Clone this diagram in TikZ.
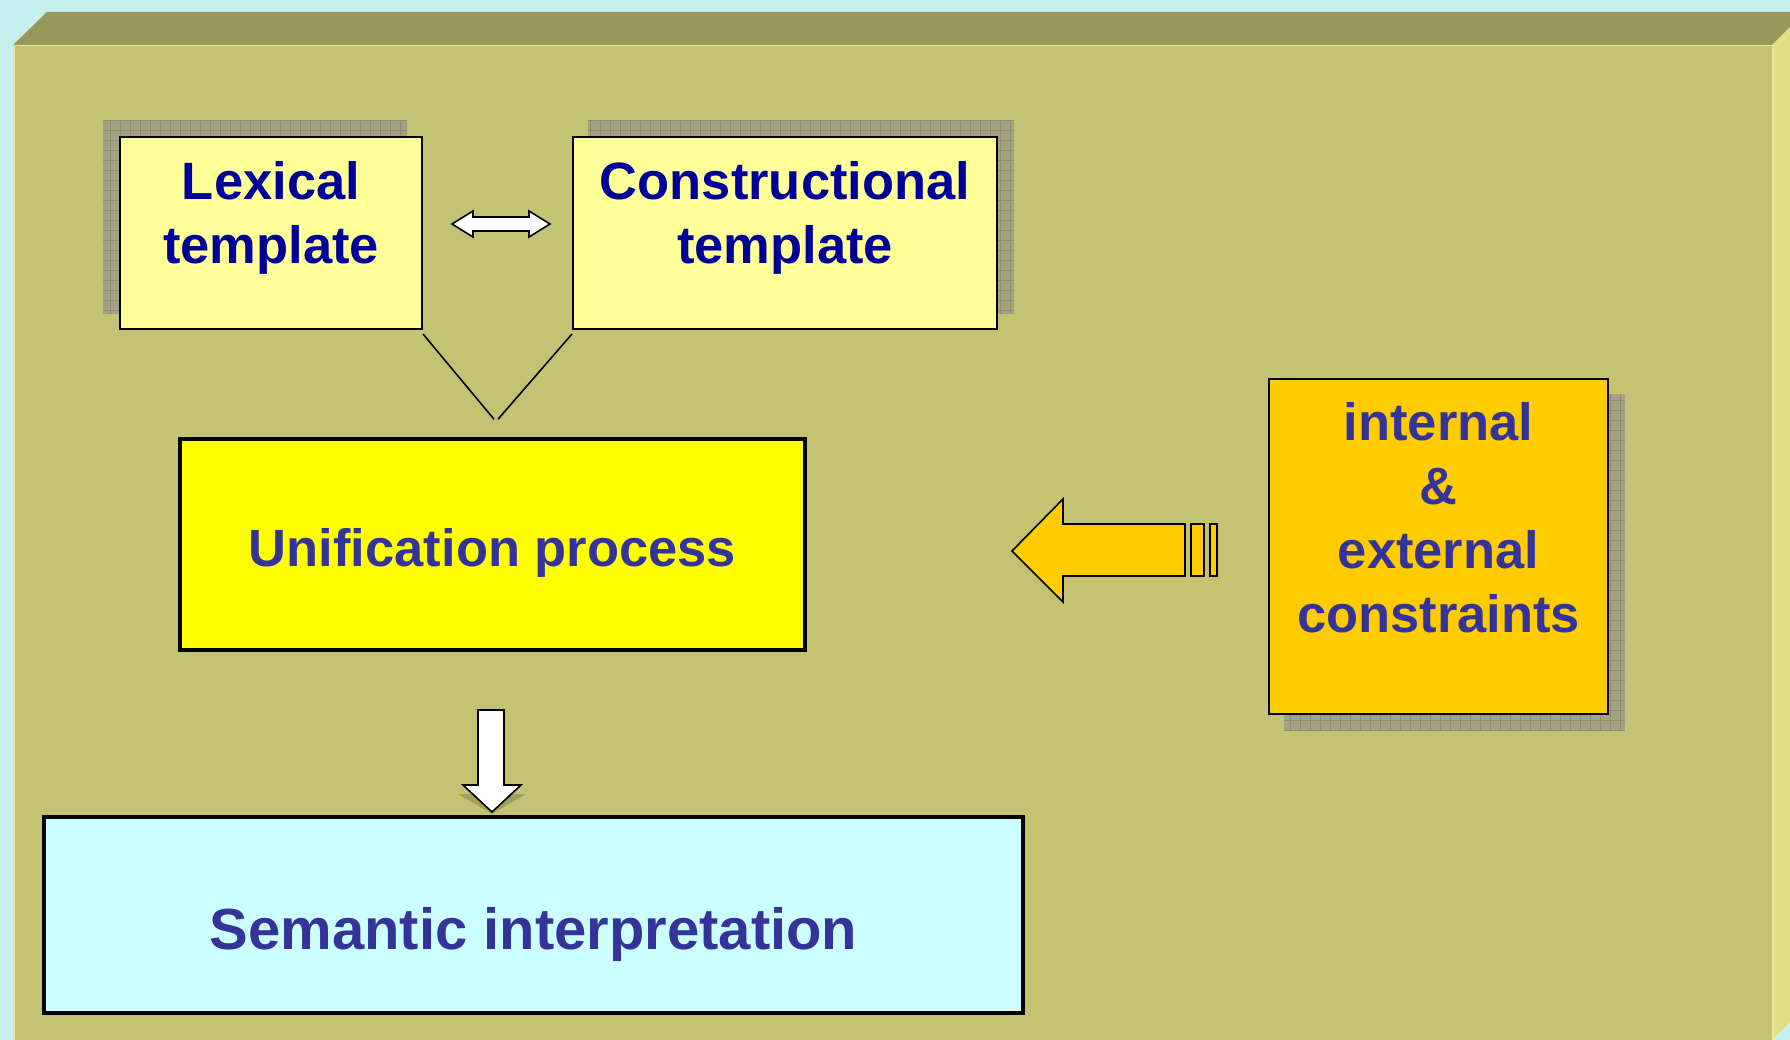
\documentclass[tikz,border=0pt]{standalone}
\usepackage{fontspec}
\setmainfont{Liberation Sans}
\usepackage{tikz}
\usetikzlibrary{calc}
\usetikzlibrary{positioning}
\usetikzlibrary{backgrounds}
\definecolor{skycolor}{HTML}{C6EFEF}
\definecolor{frontcolor}{HTML}{C3C373}
\definecolor{topcolor}{HTML}{989858}
\definecolor{sidecolor}{HTML}{E0E085}
\definecolor{shadowcolor}{HTML}{A3A282}
\definecolor{gridcolor}{HTML}{8E8D70}
\definecolor{tmplcolor}{HTML}{FFFF99}
\definecolor{unicolor}{HTML}{FFFF00}
\definecolor{semcolor}{HTML}{CCFFFF}
\definecolor{alertcolor}{HTML}{FFCC00}
\definecolor{navycolor}{HTML}{000099}
\definecolor{textcolor}{HTML}{333399}
\tikzstyle{template} = [rectangle,
    minimum height=192pt,
    inner sep=0pt,
    draw=black,
    line width=2pt,
    fill=tmplcolor]
\tikzstyle{process} = [rectangle,
    inner sep=0pt,
    draw=black,
    line width=3.5pt]
\tikzstyle{bigtext} = [font=\bfseries\fontsize{52.5}{64}\selectfont,
    align=center,
    inner sep=0pt,
    text=textcolor]
\tikzstyle{blockarrow} = [draw=black, line width=1.6pt, line join=miter]
\tikzstyle{shadowgrid} = [gridcolor, line width=0.5pt, step=10pt]

\begin{document}
\begin{tikzpicture}[x=1pt,y=-1pt]
\useasboundingbox (0,0) rectangle (1790,1040);

\node (lex) [template, minimum width=302pt] at (271,233) {};
\node (cons) [template, minimum width=424pt] at (785,233) {};
\node (uni) [process, fill=unicolor, minimum width=625pt, minimum height=211pt] at (492.5,544.5) {};
\node (sem) [process, fill=semcolor, minimum width=979pt, minimum height=196pt] at (533.5,915) {};
\node (ext) [template, fill=alertcolor, minimum width=339pt, minimum height=335pt] at (1438.5,546.5) {};

% frame and shadows
\begin{scope}[on background layer]
\fill[skycolor] (0,0) rectangle (1790,1040);
\fill[topcolor] (13,45) -- (47,12) -- (1790,12) -- (1790,27) -- (1772,45) -- cycle;
\fill[sidecolor] (1772,45) -- (1790,27) -- (1790,1022) -- (1772,1040) -- cycle;
\fill[frontcolor] (13,45) rectangle (1772,1040);
\draw[sidecolor!80!white, line width=1.5pt] (13.75,1040) -- (13.75,45.75) -- (1772,45.75);
\draw[sidecolor!70!white, line width=1.5pt] (1772.75,45) -- (1772.75,1040);
\fill[shadowcolor] ([xshift=-16pt,yshift=16pt]lex.north west) rectangle ([xshift=-16pt,yshift=16pt]lex.south east);
\draw[shadowgrid] ([xshift=-16pt,yshift=16pt]lex.north west) grid ([xshift=-16pt,yshift=16pt]lex.south east);
\fill[shadowcolor] ([xshift=16pt,yshift=16pt]cons.north west) rectangle ([xshift=16pt,yshift=16pt]cons.south east);
\draw[shadowgrid] ([xshift=16pt,yshift=16pt]cons.north west) grid ([xshift=16pt,yshift=16pt]cons.south east);
\fill[shadowcolor] ([xshift=16pt,yshift=-16pt]ext.north west) rectangle ([xshift=16pt,yshift=-16pt]ext.south east);
\draw[shadowgrid] ([xshift=16pt,yshift=-16pt]ext.north west) grid ([xshift=16pt,yshift=-16pt]ext.south east);
\end{scope}

% texts
\node (lexText) [bigtext, text=navycolor, below=25pt of lex.north] {Lexical\\template};
\node (consText) [bigtext, text=navycolor, below=25pt of cons.north] {Constructional\\template};
\node (uniText) [bigtext] at ([yshift=-8.5pt]uni.center) {Unification process};
\node (semText) [bigtext, font=\bfseries\fontsize{58}{64}\selectfont] at ([yshift=-19.5pt]sem.center) {Semantic interpretation};
\node (extText) [bigtext, below=24pt of ext.north] {internal\\\&\\external\\constraints};

% connectors
\coordinate (vl) at ([xshift=1.5pt,yshift=18pt]uni.north);
\coordinate (vr) at ([xshift=5.5pt,yshift=18pt]uni.north);
\draw [line width=1.6pt] ([yshift=-4pt]lex.south east) -- (vl);
\draw [line width=1.6pt] ([yshift=-4pt]cons.south west) -- (vr);

% double arrow between templates
\draw [blockarrow, fill=white] (452,224) -- (473,211) -- (473,217) -- (529,217) -- (529,211)
    -- (550,224) -- (529,237) -- (529,231) -- (473,231) -- (473,237) -- cycle;

% arrow from constraints
\draw [blockarrow, fill=alertcolor] (1012,551) -- (1063,499) -- (1063,524) -- (1185,524)
    -- (1185,576) -- (1063,576) -- (1063,602) -- cycle;
\draw [blockarrow, fill=alertcolor] (1191,524) rectangle (1204,576);
\draw [blockarrow, fill=alertcolor] (1210,524) rectangle (1217,576);

% arrow down to interpretation
\fill [black, opacity=0.18] (458,794) -- (526,794) -- (492,814) -- cycle;
\draw [blockarrow, fill=white] (478,710) -- (504,710) -- (504,785) -- (521,785)
    -- (492,812) -- (463,785) -- (478,785) -- cycle;

\end{tikzpicture}
\end{document}
